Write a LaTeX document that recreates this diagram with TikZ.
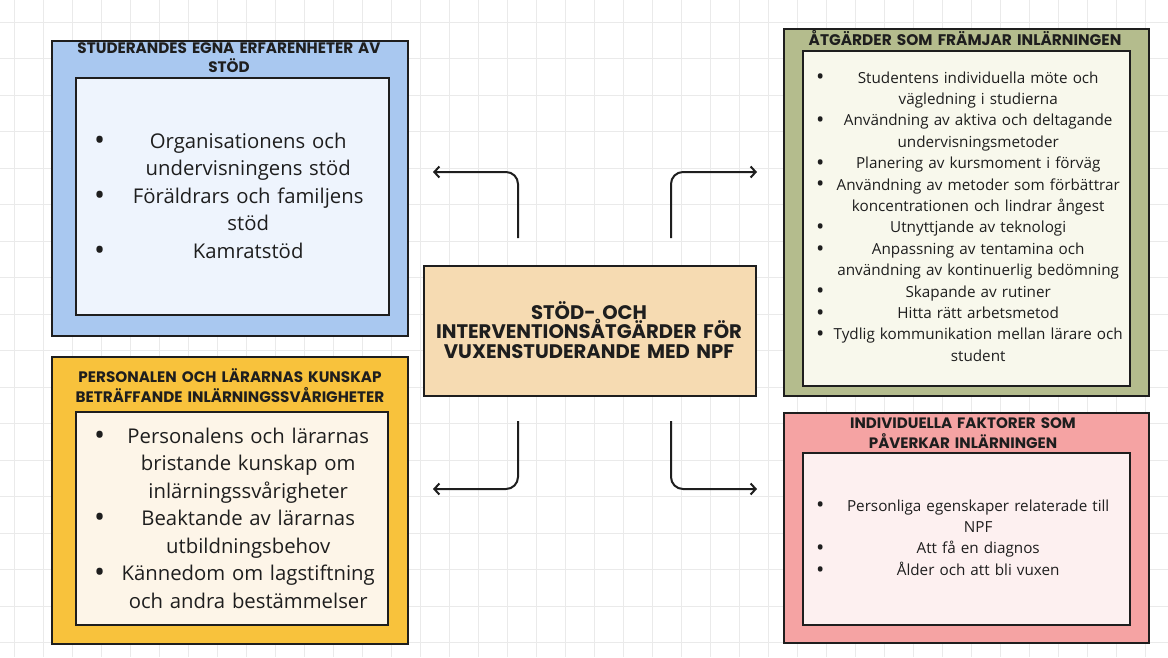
\documentclass[tikz,border=0pt]{standalone}
\usepackage{fontspec}
\setmainfont{Open Sans}
\newfontfamily\ttl{Poppins}
\usetikzlibrary{arrows.meta}
\definecolor{blueO}{HTML}{A9C8F0}
\definecolor{blueI}{HTML}{EEF4FD}
\definecolor{greenO}{HTML}{B4BC8D}
\definecolor{greenI}{HTML}{F8F8EC}
\definecolor{yellowO}{HTML}{F8C23C}
\definecolor{yellowI}{HTML}{FDF5E8}
\definecolor{pinkO}{HTML}{F5A3A3}
\definecolor{pinkI}{HTML}{FDF0F0}
\definecolor{ctrF}{HTML}{F6DBB2}
\definecolor{ink}{HTML}{1E1E1E}
\definecolor{gridc}{HTML}{EAEAEA}
\newcommand\bul{\raisebox{-0.12em}{\scalebox{1.45}{\textbullet}}}
\newcommand\li[3]{\noindent\makebox[#1][l]{\bul}\parbox[t]{#2}{\centering\strut #3\strut}\par\prevdepth=\dp\strutbox}
\begin{document}
\begin{tikzpicture}[x=1pt,y=-1pt,
  outerbox/.style={draw=ink,line width=2.4pt,anchor=north west,inner sep=0pt},
  innerbox/.style={draw=ink,line width=2pt,anchor=north west,inner sep=0pt},
  titletext/.style={anchor=base,inner sep=0pt,align=center,text=ink,font=\ttl\bfseries},
  bigtext/.style={anchor=base west,inner sep=0pt,text=ink,font=\fontsize{20.3}{27.5}\selectfont},
  smalltext/.style={anchor=base west,inner sep=0pt,text=ink,font=\fontsize{15.25}{21.4}\selectfont},
  link/.style={draw=ink,line width=2pt,rounded corners=12pt,-{Straight Barb[length=5pt,width=11pt,line width=2pt]}}
]
\useasboundingbox (0,0) rectangle (1168,657);
\fill[white] (0,0) rectangle (1168,657);
\foreach \gx in {0,...,39} \draw[gridc,line width=0.8pt] ({14+29*\gx},0) -- ({14+29*\gx},657);
\foreach \gy in {0,...,17} \draw[gridc,line width=0.8pt] (0,{22+36.5*\gy}) -- (1168,{22+36.5*\gy});

% box 1 (blue)
\node[outerbox,fill=blueO,minimum width=356pt,minimum height=295pt] (b1) at (51,40) {};
\node[innerbox,fill=blueI,minimum width=313pt,minimum height=237pt] (b1i) at (75,77) {};
\node[titletext,text width=340pt,font=\ttl\bfseries\fontsize{15.2}{19}\selectfont] (t1) at (229,53) {STUDERANDES EGNA ERFARENHETER AV\\STÖD};
\node[bigtext,text width=294pt] (l1) at (94,148) {%
\li{14pt}{280pt}{Organisationens och\\undervisningens stöd}%
\li{14pt}{280pt}{Föräldrars och familjens\\stöd}%
\li{14pt}{280pt}{Kamratstöd}};

% box 2 (green)
\node[outerbox,fill=greenO,minimum width=365pt,minimum height=367pt] (b2) at (783,28) {};
\node[innerbox,fill=greenI,minimum width=327pt,minimum height=335pt] (b2i) at (802,50) {};
\node[titletext,text width=360pt,font=\ttl\bfseries\fontsize{15.4}{19}\selectfont] (t2) at (965,45) {ÅTGÄRDER SOM FRÄMJAR INLÄRNINGEN};
\node[smalltext,text width=312pt] (l2) at (816,83) {%
\li{12pt}{300pt}{Studentens individuella möte och\\vägledning i studierna}%
\li{12pt}{300pt}{Användning av aktiva och deltagande\\undervisningsmetoder}%
\li{12pt}{300pt}{Planering av kursmoment i förväg}%
\li{12pt}{300pt}{Användning av metoder som förbättrar\\koncentrationen och lindrar ångest}%
\li{12pt}{300pt}{Utnyttjande av teknologi}%
\li{12pt}{300pt}{Anpassning av tentamina och\\användning av kontinuerlig bedömning}%
\li{12pt}{300pt}{Skapande av rutiner}%
\li{12pt}{300pt}{Hitta rätt arbetsmetod}%
\li{12pt}{300pt}{Tydlig kommunikation mellan lärare och\\student}};

% box 3 (yellow)
\node[outerbox,fill=yellowO,minimum width=356pt,minimum height=287pt] (b3) at (51,356) {};
\node[innerbox,fill=yellowI,minimum width=312pt,minimum height=213pt] (b3i) at (75,411) {};
\node[titletext,text width=340pt,font=\ttl\bfseries\fontsize{15.2}{20}\selectfont] (t3) at (230,382) {PERSONALEN OCH LÄRARNAS KUNSKAP\\BETRÄFFANDE INLÄRNINGSSVÅRIGHETER};
\node[bigtext,text width=294pt] (l3) at (94,443) {%
\li{14pt}{280pt}{Personalens och lärarnas\\bristande kunskap om\\inlärningssvårigheter}%
\li{14pt}{280pt}{Beaktande av lärarnas\\utbildningsbehov}%
\li{14pt}{280pt}{Kännedom om lagstiftning\\och andra bestämmelser}};

% box 4 (pink)
\node[outerbox,fill=pinkO,minimum width=365pt,minimum height=230pt] (b4) at (783,412) {};
\node[innerbox,fill=pinkI,minimum width=327pt,minimum height=172pt] (b4i) at (802,452) {};
\node[titletext,text width=360pt,font=\ttl\bfseries\fontsize{15.1}{20}\selectfont] (t4) at (963,428) {INDIVIDUELLA FAKTORER SOM\\PÅVERKAR INLÄRNINGEN};
\node[smalltext,text width=312pt] (l4) at (816,511) {%
\li{12pt}{300pt}{Personliga egenskaper relaterade till\\NPF}%
\li{12pt}{300pt}{Att få en diagnos}%
\li{12pt}{300pt}{Ålder och att bli vuxen}};

% centre
\node[outerbox,fill=ctrF,minimum width=332pt,minimum height=130pt] (c) at (423,265) {};
\node[titletext,text width=330pt,font=\ttl\bfseries\fontsize{19.6}{19.5}\selectfont] (ct) at (589,319) {STÖD- OCH\\INTERVENTIONSÅTGÄRDER FÖR\\VUXENSTUDERANDE MED NPF};

% connectors
\coordinate (s1) at (518,238); \coordinate (e1) at (433,172);
\coordinate (s2) at (671,238); \coordinate (e2) at (757,172);
\coordinate (s3) at (518,421); \coordinate (e3) at (433,489);
\coordinate (s4) at (671,421); \coordinate (e4) at (757,489);
\draw[link] (s1) |- (e1);
\draw[link] (s2) |- (e2);
\draw[link] (s3) |- (e3);
\draw[link] (s4) |- (e4);
\end{tikzpicture}
\end{document}
